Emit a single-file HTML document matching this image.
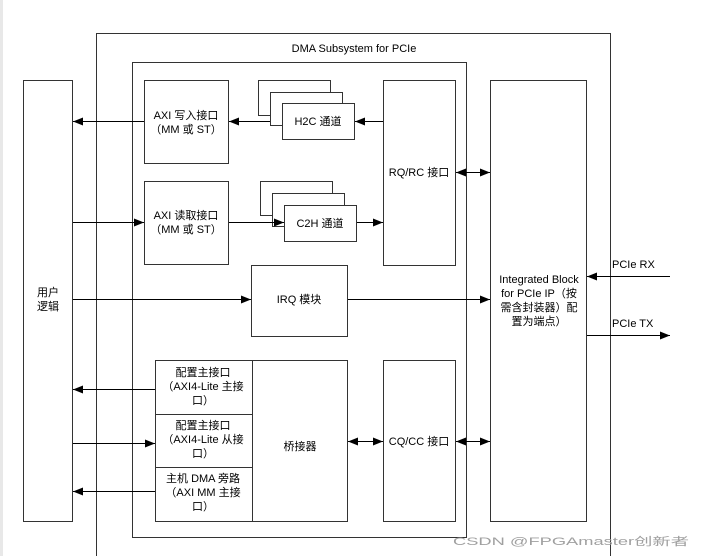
<!DOCTYPE html>
<html><head><meta charset="utf-8"><style>
html,body{margin:0;padding:0;background:#fff;}
svg{display:block;}
text{font-family:"Liberation Sans","Noto Sans CJK SC",sans-serif;font-size:11px;fill:#000;}
</style></head><body>
<svg width="705" height="556" viewBox="0 0 705 556" xmlns="http://www.w3.org/2000/svg">
<defs>
<marker id="a" markerWidth="10" markerHeight="8" refX="10" refY="4" orient="auto" markerUnits="userSpaceOnUse"><path d="M0,0 L10,4 L0,8 z" fill="#000"/></marker>
<marker id="s" markerWidth="10" markerHeight="8" refX="0" refY="4" orient="auto" markerUnits="userSpaceOnUse"><path d="M10,0 L0,4 L10,8 z" fill="#000"/></marker>
</defs>
<rect x="0" y="0" width="3" height="556" fill="#e8e8e8"/>
<g fill="#fff" stroke="#333" stroke-width="1">
<path d="M96.5,556 V33.5 H610.5 V556"/>
<rect x="132.5" y="62.5" width="334" height="475"/>
<rect x="23.5" y="80.5" width="49" height="441"/>
<rect x="144.5" y="80.5" width="84" height="83"/>
<rect x="258.5" y="80.5" width="72" height="35"/>
<rect x="270.5" y="92.5" width="72" height="33"/>
<rect x="282.5" y="103.5" width="72" height="36"/>
<rect x="144.5" y="181.5" width="84" height="83"/>
<rect x="260.5" y="181.5" width="72" height="34"/>
<rect x="272.5" y="193.5" width="72" height="33"/>
<rect x="284.5" y="205.5" width="72" height="36"/>
<rect x="383.5" y="80.5" width="72" height="185"/>
<rect x="490.5" y="80.5" width="96" height="441"/>
<rect x="251.5" y="265.5" width="96" height="71"/>
<rect x="155.5" y="360.5" width="192" height="161"/>
<line x1="252.5" y1="360" x2="252.5" y2="521"/>
<line x1="155" y1="414.5" x2="252" y2="414.5"/>
<line x1="155" y1="467.5" x2="252" y2="467.5"/>
<rect x="383.5" y="360.5" width="72" height="161"/>
</g>
<g stroke="#000" stroke-width="1" fill="none">
<line x1="144" y1="121.5" x2="73" y2="121.5" marker-end="url(#a)"/>
<line x1="270" y1="121.5" x2="229" y2="121.5" marker-end="url(#a)"/>
<line x1="383" y1="121.5" x2="355" y2="121.5" marker-end="url(#a)"/>
<line x1="73" y1="222.5" x2="144" y2="222.5" marker-end="url(#a)"/>
<line x1="229" y1="222.5" x2="284" y2="222.5" marker-end="url(#a)"/>
<line x1="357" y1="222.5" x2="383" y2="222.5" marker-end="url(#a)"/>
<line x1="456" y1="172.5" x2="490" y2="172.5" marker-start="url(#s)" marker-end="url(#a)"/>
<line x1="73" y1="299.5" x2="251" y2="299.5" marker-end="url(#a)"/>
<line x1="348" y1="299.5" x2="490" y2="299.5" marker-end="url(#a)"/>
<line x1="155" y1="389.5" x2="73" y2="389.5" marker-end="url(#a)"/>
<line x1="73" y1="443.5" x2="155" y2="443.5" marker-end="url(#a)"/>
<line x1="155" y1="491.5" x2="73" y2="491.5" marker-end="url(#a)"/>
<line x1="348" y1="441.5" x2="383" y2="441.5" marker-start="url(#s)" marker-end="url(#a)"/>
<line x1="456" y1="441.5" x2="490" y2="441.5" marker-start="url(#s)" marker-end="url(#a)"/>
<line x1="670" y1="276.5" x2="587" y2="276.5" marker-end="url(#a)"/>
<line x1="587" y1="335.5" x2="670" y2="335.5" marker-end="url(#a)"/>
</g>
<g text-anchor="middle">
<text x="354" y="52" font-size="12">DMA Subsystem for PCIe</text>
<text x="48" y="296">用户</text><text x="48" y="310">逻辑</text>
<text x="186" y="119">AXI 写入接口</text><text x="186" y="133">（MM 或 ST）</text>
<text x="318" y="125">H2C 通道</text>
<text x="186" y="219">AXI 读取接口</text><text x="186" y="233">（MM 或 ST）</text>
<text x="320" y="227">C2H 通道</text>
<text x="419" y="176">RQ/RC 接口</text>
<text x="299" y="303">IRQ 模块</text>
<text x="203" y="376">配置主接口</text><text x="203" y="390">（AXI4-Lite 主接</text><text x="203" y="404">口）</text>
<text x="203" y="429">配置主接口</text><text x="203" y="443">（AXI4-Lite 从接</text><text x="203" y="457">口）</text>
<text x="203" y="482">主机 DMA 旁路</text><text x="203" y="496">（AXI MM 主接</text><text x="203" y="510">口）</text>
<text x="300" y="450">桥接器</text>
<text x="419" y="445">CQ/CC 接口</text>
<text x="539" y="283">Integrated Block</text>
<text x="539" y="297">for PCIe IP（按</text>
<text x="539" y="311">需含封装器）配</text>
<text x="539" y="325">置为端点）</text>
</g>
<text x="612" y="268">PCIe RX</text>
<text x="612" y="327">PCIe TX</text>
<text x="453" y="545" font-size="17" textLength="236" lengthAdjust="spacingAndGlyphs" style="fill:#a0a0a0">CSDN @FPGAmaster创新者</text>
</svg>
</body></html>
